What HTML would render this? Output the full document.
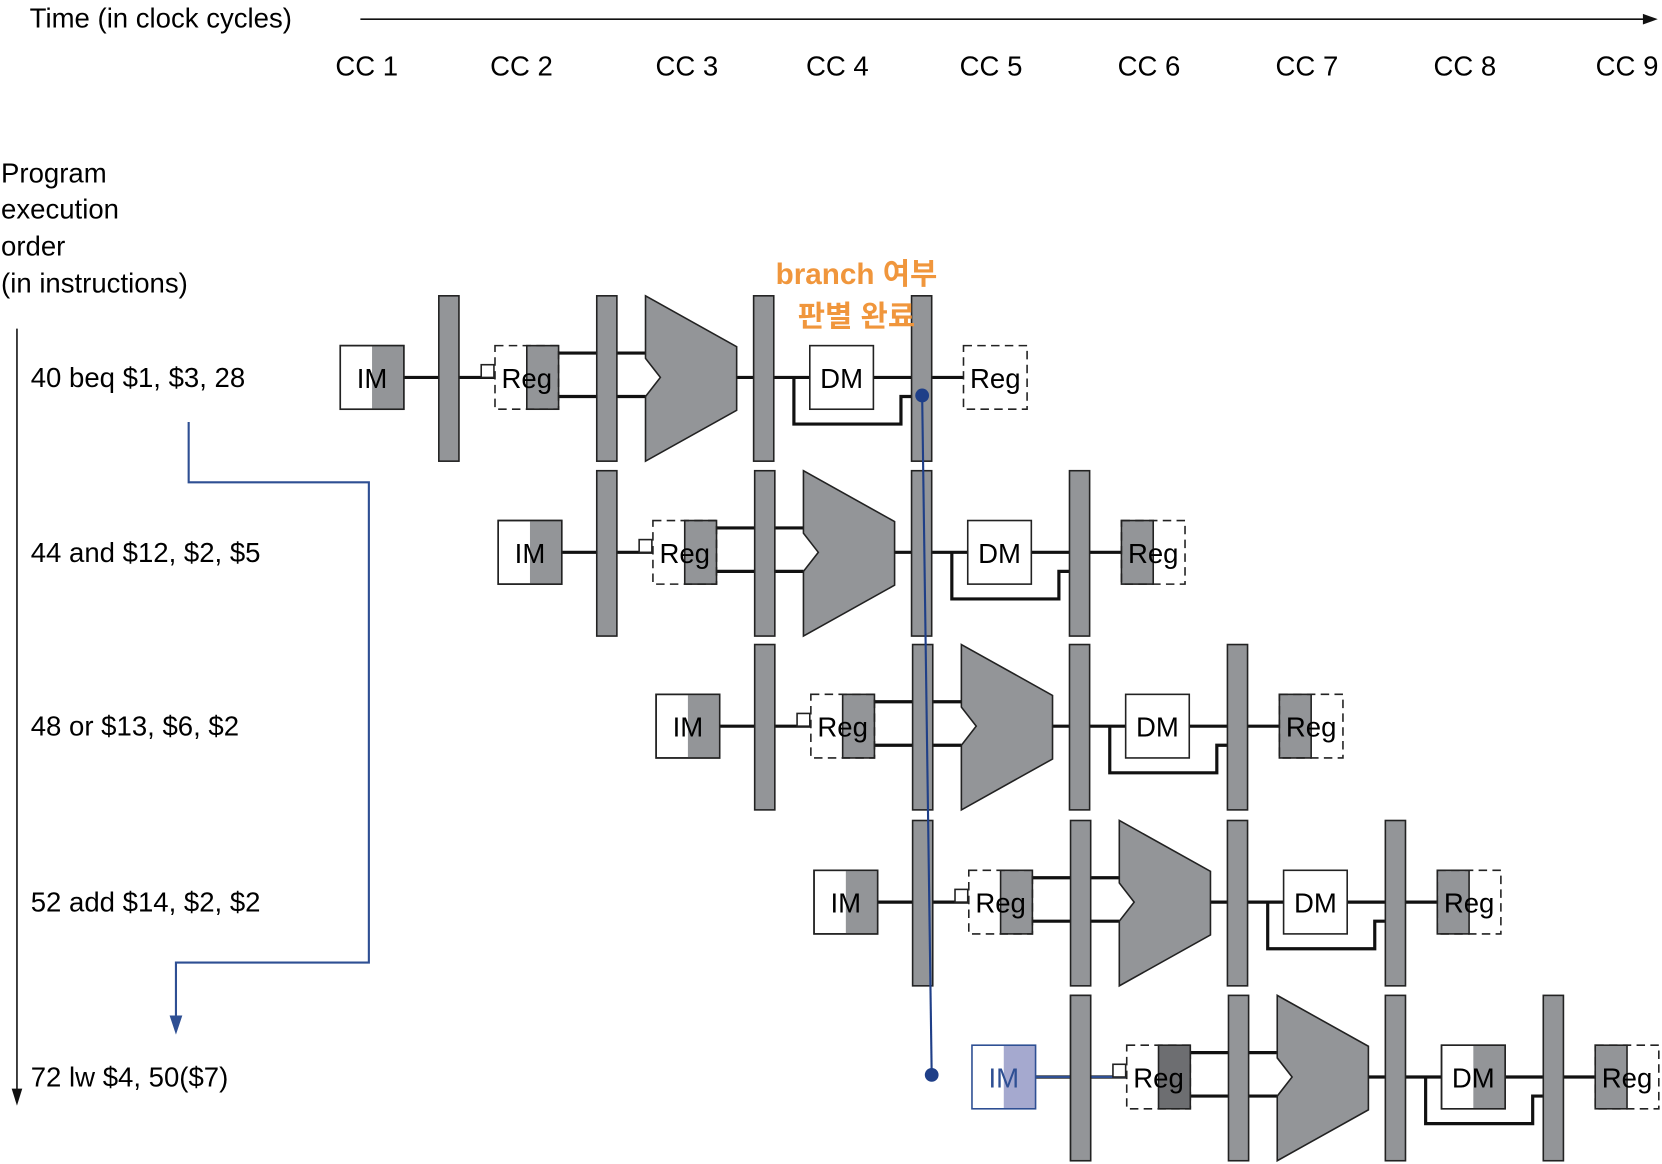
<!DOCTYPE html>
<html><head><meta charset="utf-8"><style>
html,body{margin:0;padding:0;background:#fff;}
svg{display:block;}
text{font-family:"Liberation Sans","Noto Sans CJK KR",sans-serif;}
</style></head><body>
<svg width="1662" height="1164" viewBox="0 0 1568 1098" xmlns="http://www.w3.org/2000/svg">
<defs>
<g id="lines" stroke="#111" stroke-width="3" fill="none">
<line x1="381" y1="356" x2="414" y2="356"/>
<line x1="433" y1="356" x2="467" y2="356"/>
<line x1="527" y1="333" x2="609" y2="333"/>
<line x1="527" y1="374" x2="609" y2="374"/>
<line x1="695" y1="356" x2="711" y2="356"/>
<line x1="730" y1="356" x2="764" y2="356"/>
<line x1="824" y1="356" x2="860" y2="356"/>
<path d="M749 356 V400 H850 V374 H860"/>
<line x1="879" y1="356" x2="909" y2="356"/>
</g>
<g id="bars" fill="#939598" stroke="#222" stroke-width="1.5">
<rect x="414" y="279" width="19" height="156"/>
<rect x="563" y="279" width="19" height="156"/>
<rect x="711" y="279" width="19" height="156"/>
<rect x="860" y="279" width="19" height="156"/>
<polygon points="609,279 695,327 695,387 609,435 609,374 623,356 609,338"/>
</g>
</defs>
<!-- axis -->
<text x="28" y="26" font-size="26">Time (in clock cycles)</text>
<line x1="340" y1="18" x2="1552" y2="18" stroke="#111" stroke-width="1.5"/>
<polygon points="1564,18 1550,13 1550,23" fill="#111"/>
<g font-size="26" text-anchor="middle">
<text x="346" y="71">CC 1</text><text x="492" y="71">CC 2</text><text x="648" y="71">CC 3</text>
<text x="790" y="71">CC 4</text><text x="935" y="71">CC 5</text><text x="1084" y="71">CC 6</text>
<text x="1233" y="71">CC 7</text><text x="1382" y="71">CC 8</text><text x="1535" y="71">CC 9</text>
</g>
<g font-size="26">
<text x="1" y="172">Program</text><text x="1" y="206">execution</text><text x="1" y="241">order</text><text x="1" y="276">(in instructions)</text>
<text x="29" y="365">40 beq $1, $3, 28</text>
<text x="29" y="530">44 and $12, $2, $5</text>
<text x="29" y="694">48 or $13, $6, $2</text>
<text x="29" y="860">52 add $14, $2, $2</text>
<text x="29" y="1025">72 lw $4, 50($7)</text>
</g>
<line x1="16" y1="310" x2="16" y2="1030" stroke="#111" stroke-width="1.5"/>
<polygon points="16,1043 11,1027 21,1027" fill="#111"/>

<!-- rows -->
<g id="r">
<use href="#lines"/>
<rect x="321" y="326" width="60" height="60" fill="#fff" stroke="#222" stroke-width="1.5"/>
<rect x="351" y="326" width="30" height="60" fill="#939598"/>
<rect x="321" y="326" width="60" height="60" fill="none" stroke="#222" stroke-width="1.5"/>
<use href="#bars"/>
<rect x="454" y="344" width="12" height="12" fill="#fff" stroke="#222" stroke-width="1.5"/>
<rect x="497" y="326" width="30" height="60" fill="#939598" stroke="#222" stroke-width="1.5"/>
<rect x="467" y="326" width="60" height="60" fill="none" stroke="#222" stroke-width="1.5" stroke-dasharray="8,5"/>
<rect x="764" y="326" width="60" height="60" fill="#fff" stroke="#222" stroke-width="1.5"/>
<g font-size="26" text-anchor="middle"><text x="351" y="366">IM</text><text x="497" y="366">Reg</text><text x="794" y="366">DM</text></g>
</g>
<rect x="909" y="326" width="60" height="60" fill="#fff" stroke="#222" stroke-width="1.5" stroke-dasharray="8,5"/>
<text x="939" y="366" font-size="26" text-anchor="middle">Reg</text>

<g id="wb">
<g transform="translate(149,165)">
<use href="#r"/>
<rect x="909" y="326" width="30" height="60" fill="#939598" stroke="#222" stroke-width="1.5"/>
<rect x="909" y="326" width="60" height="60" fill="none" stroke="#222" stroke-width="1.5" stroke-dasharray="8,5"/>
<text x="939" y="366" font-size="26" text-anchor="middle">Reg</text>
</g>
</g>
<g transform="translate(149,164)"><use href="#wb"/></g>
<g transform="translate(298,330)"><use href="#wb"/></g>

<!-- row 5 -->
<g transform="translate(596,660)">
<use href="#lines"/>
<use href="#bars"/>
<rect x="321" y="326" width="60" height="60" fill="#fff"/>
<rect x="351" y="326" width="30" height="60" fill="#a5a9cf"/>
<rect x="321" y="326" width="60" height="60" fill="none" stroke="#2e4f93" stroke-width="1.5"/>
<line x1="381" y1="356" x2="414" y2="356" stroke="#2e4f93" stroke-width="2"/>
<line x1="433" y1="356" x2="467" y2="356" stroke="#2e4f93" stroke-width="2"/>
<rect x="414" y="279" width="19" height="156" fill="#939598" stroke="#222" stroke-width="1.5"/>
<rect x="454" y="344" width="12" height="12" fill="#fff" stroke="#222" stroke-width="1.5"/>
<rect x="497" y="326" width="30" height="60" fill="#6d6e71" stroke="#222" stroke-width="1.5"/>
<rect x="467" y="326" width="60" height="60" fill="none" stroke="#222" stroke-width="1.5" stroke-dasharray="8,5"/>
<rect x="764" y="326" width="60" height="60" fill="#fff" stroke="#222" stroke-width="1.5"/>
<rect x="794" y="326" width="30" height="60" fill="#939598"/>
<rect x="764" y="326" width="60" height="60" fill="none" stroke="#222" stroke-width="1.5"/>
<rect x="909" y="326" width="30" height="60" fill="#939598" stroke="#222" stroke-width="1.5"/>
<rect x="909" y="326" width="60" height="60" fill="none" stroke="#222" stroke-width="1.5" stroke-dasharray="8,5"/>
<g font-size="26" text-anchor="middle"><text x="351" y="366" fill="#2e4f93">IM</text><text x="497" y="366">Reg</text><text x="794" y="366">DM</text><text x="939" y="366">Reg</text></g>
</g>

<!-- blue connectors -->
<path d="M178 398 V455 H348 V908 H166 V962" fill="none" stroke="#2e4f93" stroke-width="2"/>
<polygon points="166,976 160,958 172,958" fill="#2e4f93"/>
<line x1="870" y1="373" x2="879" y2="1014" stroke="#1f3f88" stroke-width="2"/>
<circle cx="870" cy="373" r="6.5" fill="#1f3f88"/>
<circle cx="879" cy="1014" r="6.5" fill="#1f3f88"/>

<g font-size="28" font-weight="bold" fill="#f0963c" text-anchor="middle">
<text x="808" y="268">branch 여부</text>
<text x="808" y="308">판별 완료</text>
</g>
</svg>
</body></html>
